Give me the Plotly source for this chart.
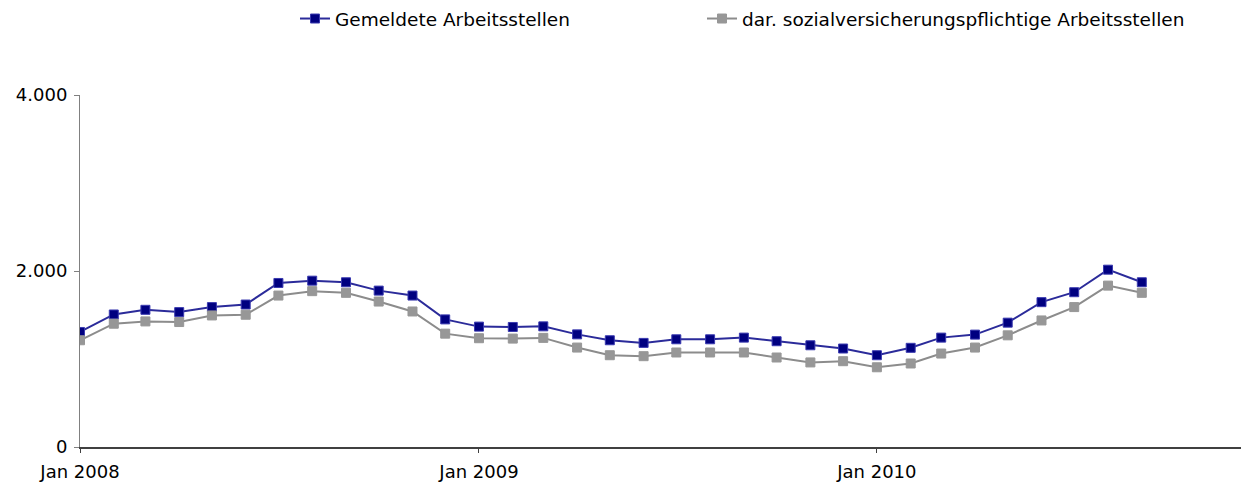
import pandas as pd
import plotly.graph_objects as go

months = pd.date_range("2008-01-01", "2010-09-01", freq="MS")
gemeldete = [1307, 1506, 1559, 1533, 1590, 1619, 1864, 1890, 1872, 1777, 1721, 1450,
             1368, 1364, 1371, 1280, 1213, 1183, 1224, 1224, 1243, 1202, 1156, 1119,
             1043, 1127, 1243, 1277, 1413, 1646, 1759, 2015, 1872]
sozial = [1213, 1401, 1427, 1420, 1495, 1503, 1721, 1771, 1752, 1653, 1540, 1288,
          1236, 1232, 1240, 1130, 1043, 1032, 1074, 1074, 1074, 1017, 961, 975,
          906, 949, 1062, 1130, 1269, 1438, 1590, 1834, 1752]
y_ticks = [0, 2000, 4000]
y_ticklabels = ["0", "2.000", "4.000"]
x_ticks = ["2008-01-01", "2009-01-01", "2010-01-01"]
x_ticklabels = ["Jan 2008", "Jan 2009", "Jan 2010"]

fig = go.Figure()
fig.add_trace(go.Scatter(
    x=months, y=gemeldete, name="Gemeldete Arbeitsstellen", mode="lines+markers",
    line=dict(color="#2B2B9A", width=2),
    marker=dict(symbol="square", size=9, color="#000080", line=dict(color="#3A3AB0", width=1)),
    legend="legend",
))
fig.add_trace(go.Scatter(
    x=months, y=sozial, name="dar. sozialversicherungspflichtige Arbeitsstellen", mode="lines+markers",
    line=dict(color="#8C8C8C", width=2),
    marker=dict(symbol="square", size=9, color="#979797", line=dict(color="#979797", width=1)),
    legend="legend2",
))

legend_common = dict(orientation="h", xref="container", yref="container", y=1.0,
                     xanchor="left", yanchor="top", font=dict(size=18.5),
                     bgcolor="rgba(0,0,0,0)")
fig.update_layout(
    width=1244, height=485,
    margin=dict(l=80, r=3, t=95, b=36),
    paper_bgcolor="white", plot_bgcolor="white",
    font=dict(family="DejaVu Sans, Arial, sans-serif", size=18, color="black"),
    showlegend=True,
    legend=dict(x=295 / 1244, **legend_common),
    legend2=dict(x=702 / 1244, **legend_common),
    xaxis=dict(type="date", range=["2008-01-01", "2010-12-01"],
               tickvals=x_ticks, ticktext=x_ticklabels, ticks="outside", ticklen=4,
               tickcolor="#404040", ticklabelstandoff=3,
               showline=True, linecolor="#404040", linewidth=2,
               showgrid=False, zeroline=False),
    yaxis=dict(range=[0, 4000], tickvals=y_ticks, ticktext=y_ticklabels,
               ticks="outside", ticklen=5, tickcolor="#808080", ticklabelstandoff=3,
               showline=True, linecolor="#808080", linewidth=1,
               showgrid=False, zeroline=False),
)
fig.write_html("out.html", config={"displayModeBar": False},
               post_script="document.body.style.margin='0';document.body.style.padding='0';")
